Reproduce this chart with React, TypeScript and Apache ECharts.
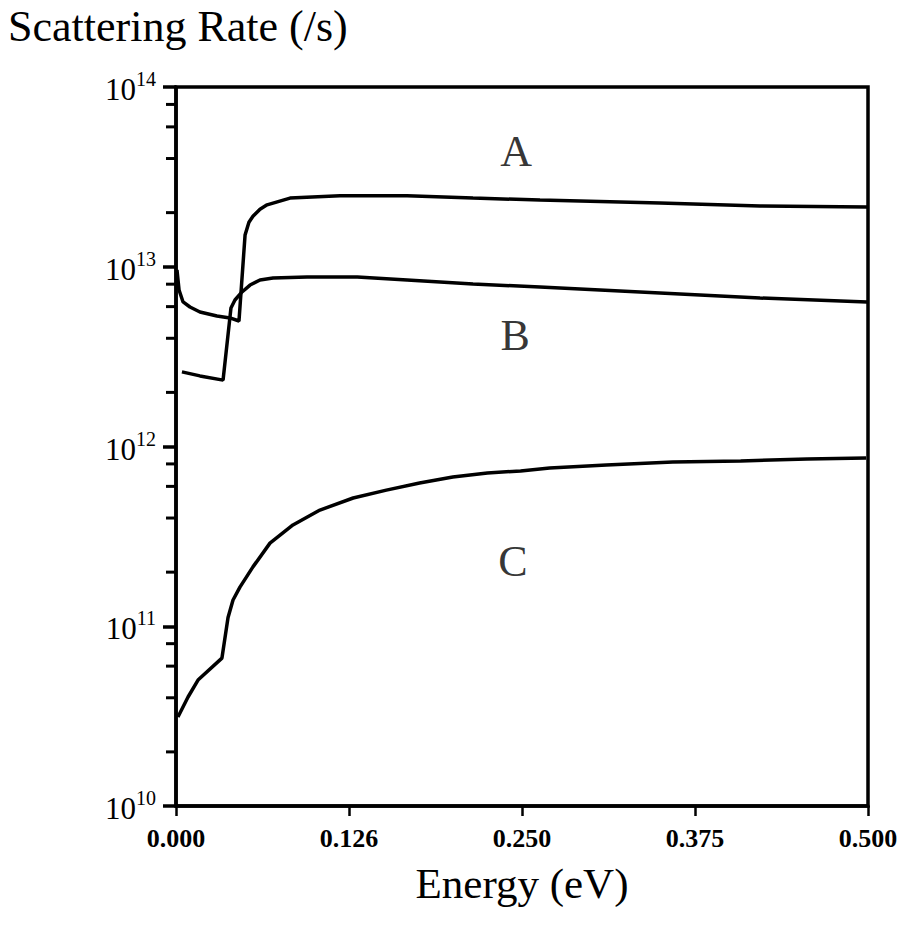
import React, { useEffect, useRef } from "react";
import * as echarts from "echarts";

// ---- data ----
const xTickLabels = ["0.000", "0.126", "0.250", "0.375", "0.500"];

const energyA = [0.0007, 0.0022, 0.0051, 0.0101, 0.0173, 0.0296, 0.039, 0.0455, 0.0499, 0.0527, 0.0556, 0.0607, 0.0658, 0.0824, 0.1185, 0.167, 0.2146, 0.263, 0.3497, 0.422, 0.4993];
const rateA = [9.6e12, 7.43e12, 6.37e12, 5.97e12, 5.6e12, 5.32e12, 5.19e12, 4.99e12, 1.5e13, 1.77e13, 1.91e13, 2.09e13, 2.21e13, 2.41e13, 2.48e13, 2.48e13, 2.41e13, 2.35e13, 2.26e13, 2.18e13, 2.15e13];

const energyB = [0.0043, 0.0173, 0.034, 0.0397, 0.0426, 0.0477, 0.0535, 0.0607, 0.0701, 0.0947, 0.131, 0.167, 0.2146, 0.263, 0.3497, 0.422, 0.4993];
const rateB = [2.6e12, 2.47e12, 2.34e12, 5.89e12, 6.53e12, 7.24e12, 7.91e12, 8.44e12, 8.65e12, 8.77e12, 8.77e12, 8.44e12, 8.02e12, 7.71e12, 7.14e12, 6.7e12, 6.37e12];

const energyC = [0.0014, 0.0087, 0.0159, 0.0332, 0.0376, 0.0412, 0.0462, 0.0556, 0.0679, 0.0845, 0.104, 0.128, 0.152, 0.176, 0.2, 0.225, 0.249, 0.27, 0.311, 0.359, 0.408, 0.456, 0.4986];
const rateC = [3.13e10, 4.04e10, 5.02e10, 6.65e10, 1.12e11, 1.4e11, 1.65e11, 2.14e11, 2.9e11, 3.66e11, 4.43e11, 5.17e11, 5.72e11, 6.27e11, 6.77e11, 7.13e11, 7.31e11, 7.59e11, 7.89e11, 8.2e11, 8.31e11, 8.51e11, 8.63e11];

const curveNames = ["A", "B", "C"];
const curveLabelEnergy = [0.2457, 0.245, 0.2435];
const curveLabelRate = [4.35e13, 4.17e12, 2.28e11];

const minorTickValues = [
  2e10, 4e10, 6e10, 8e10,
  2e11, 4e11, 6e11, 8e11,
  2e12, 4e12, 6e12, 8e12,
  2e13, 4e13, 6e13, 8e13,
];

const SERIF = "'Liberation Serif', 'Times New Roman', serif";

function pairs(xs: number[], ys: number[]) {
  return xs.map((x, i) => [x, ys[i]]);
}

export default function App() {
  const ref = useRef<HTMLDivElement | null>(null);

  useEffect(() => {
    if (!ref.current) return;
    const chart = echarts.init(ref.current, null, { renderer: "svg" });

    const lineSeries = (data: number[][]) => ({
      type: "line",
      data,
      showSymbol: false,
      symbol: "none",
      smooth: false,
      lineStyle: { color: "#000", width: 3.5 },
      z: 3,
    });

    const option: any = {
      animation: false,
      backgroundColor: "#fff",
      title: {
        text: "Scattering Rate (/s)",
        left: 8,
        top: 4,
        padding: 0,
        textStyle: { fontFamily: SERIF, fontSize: 44, fontWeight: "normal", color: "#000" },
      },
      grid: {
        left: 176,
        right: 33,
        top: 87,
        bottom: 125,
        show: true,
        borderColor: "#000",
        borderWidth: 3.5,
        backgroundColor: "transparent",
      },
      xAxis: {
        type: "value",
        min: 0,
        max: 0.5,
        interval: 0.125,
        name: "Energy (eV)",
        nameLocation: "middle",
        nameGap: 56,
        nameTextStyle: { fontFamily: SERIF, fontSize: 43, color: "#000" },
        axisLine: { show: true, lineStyle: { color: "#000", width: 3.5 } },
        axisTick: { show: true, inside: false, length: 10, lineStyle: { color: "#000", width: 2.5 } },
        splitLine: { show: false },
        axisLabel: {
          margin: 19,
          fontFamily: SERIF,
          fontSize: 26,
          fontWeight: "bold",
          color: "#000",
          formatter: (v: number) => {
            const i = Math.round(v / 0.125);
            return xTickLabels[i] ?? "";
          },
        },
      },
      yAxis: {
        type: "log",
        logBase: 10,
        min: 1e10,
        max: 1e14,
        axisLine: { show: true, lineStyle: { color: "#000", width: 3.5 } },
        axisTick: { show: true, inside: false, length: 13, lineStyle: { color: "#000", width: 3.5 } },
        splitLine: { show: false },
        axisLabel: {
          margin: 20,
          color: "#000",
          formatter: (v: number) => {
            const e = Math.round(Math.log10(v));
            return `{b|10}{s|${e}}`;
          },
          rich: {
            b: { fontFamily: SERIF, fontSize: 31, color: "#000", lineHeight: 36, verticalAlign: "bottom" },
            s: { fontFamily: SERIF, fontSize: 20, color: "#000", lineHeight: 36, verticalAlign: "top" },
          },
        },
      },
      series: [
        lineSeries(pairs(energyA, rateA)),
        lineSeries(pairs(energyB, rateB)),
        lineSeries(pairs(energyC, rateC)),
        {
          type: "scatter",
          symbolSize: 0,
          data: curveNames.map((n, i) => ({ name: n, value: [curveLabelEnergy[i], curveLabelRate[i]] })),
          label: {
            show: true,
            position: "inside",
            formatter: "{b}",
            fontFamily: SERIF,
            fontSize: 44,
            color: "#000",
          },
          z: 4,
        },
        {
          type: "custom",
          clip: false,
          data: minorTickValues.map((v) => [0, v]),
          renderItem: (params: any, api: any) => {
            const p = api.coord([api.value(0), api.value(1)]);
            return {
              type: "line",
              shape: { x1: p[0] - 10, y1: p[1], x2: p[0], y2: p[1] },
              style: { stroke: "#000", lineWidth: 3 },
            };
          },
          z: 2,
        },
      ],
    };

    chart.setOption(option);
    return () => chart.dispose();
  }, []);

  return (
    <div
      ref={ref}
      style={{ position: "fixed", left: 0, top: 0, width: 901, height: 931, background: "#fff" }}
    />
  );
}
